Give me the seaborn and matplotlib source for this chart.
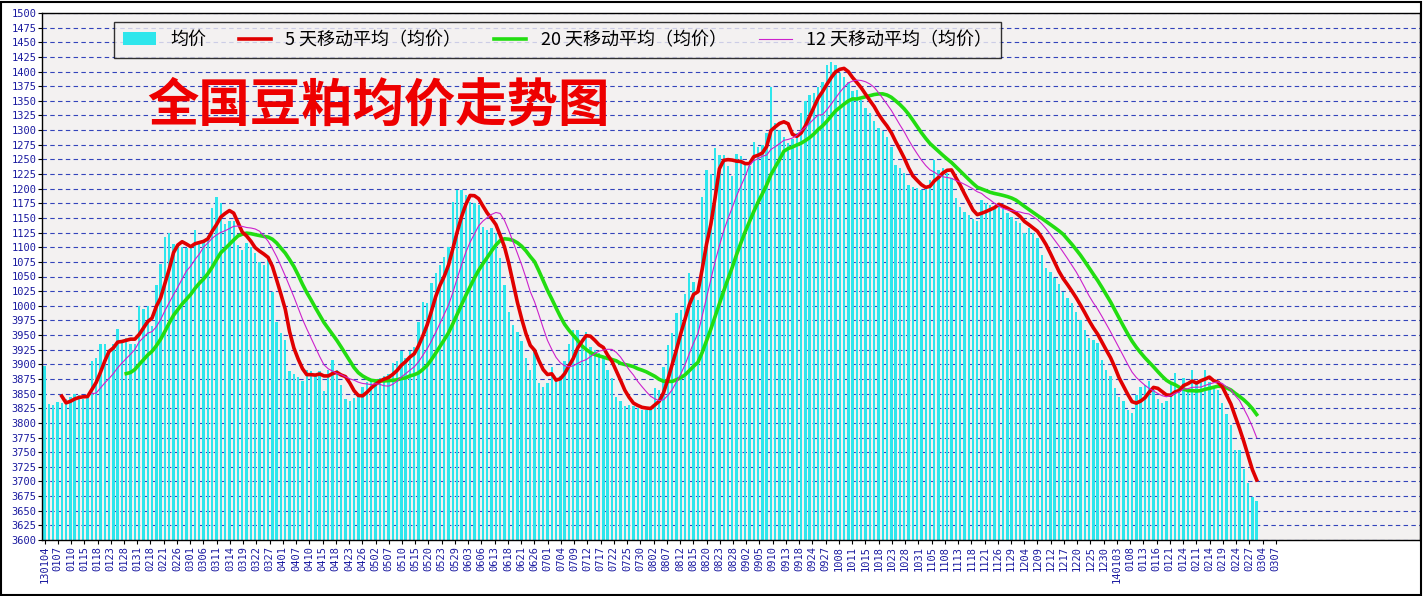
import numpy as np
import pandas as pd
import matplotlib
matplotlib.use("Agg")
import matplotlib.pyplot as plt
import seaborn as sns

seg1 = [3897,3832,3830,3835,3834,3840,3845,3850,3848,3840,3842,3905,3910,3935,3935,3925,3935,3960,3940,3945,3935,3935,4000,3995,4000,3965,4035,4072,4118,4124,4105,4100,4100,4098,4102,4130,4110,4110,4120,4167,4186,4175,4140,4145,4145,4104,4095,4107,4100,4090,4075,4070]
seg2 = [4078,4024,3973,3953,3942,3888,3884,3878,3871,3891,3888,3880,3888,3854,3891,3908,3891,3865,3840,3837,3842,3850,3862,3870,3875,3872,3877,3880,3883,3902,3905,3922,3911,3922,3930,3973,4007,4004,4039,4056,4070,4084,4101,4178,4198,4198,4190,4178,4176,4172,4135,4130]
seg3 = [4132,4124,4081,4036,3990,3967,3956,3939,3910,3890,3925,3868,3862,3868,3896,3871,3880,3905,3935,3959,3959,3936,3956,3930,3925,3920,3913,3891,3877,3845,3838,3828,3830,3828,3825,3822,3822,3826,3859,3856,3895,3933,3953,3987,3993,4020,4056,4041,4010,4186,4232,4225]
seg4 = [4269,4258,4258,4238,4221,4260,4255,4240,4238,4280,4272,4275,4295,4374,4312,4301,4289,4278,4284,4295,4329,4349,4360,4363,4374,4383,4411,4417,4411,4397,4391,4383,4366,4369,4352,4337,4329,4315,4304,4298,4289,4272,4240,4235,4226,4206,4203,4201,4198,4203,4215,4249,4232,4235]
seg5 = [4226,4218,4184,4169,4161,4155,4149,4144,4181,4175,4172,4166,4172,4166,4158,4152,4144,4141,4124,4132,4124,4115,4087,4064,4058,4047,4038,4024,4013,4004,3990,3976,3959,3945,3942,3936,3908,3891,3880,3860,3845,3837,3822,3817,3848,3862,3865,3871,3857,3840,3834,3837,3868]
seg6 = [3885,3853,3876,3853,3890,3868,3873,3890,3870,3859,3856,3834,3816,3796,3754,3754,3722,3697,3674,3666]
prices = seg1 + seg2 + seg3 + seg4 + seg5 + seg6

date_labels = ["130104","0107","0110","0115","0118","0123","0128","0131","0218","0221","0226","0301","0306","0311","0314","0319","0322","0327","0401","0407","0410","0415","0418","0423","0426","0502","0507","0510","0515","0520","0523","0529","0603","0606","0613","0618","0621","0626","0701","0704","0709","0712","0717","0722","0725","0730","0802","0807","0812","0815","0820","0823","0828","0902","0905","0910","0913","0918","0924","0927","1008","1011","1015","1018","1023","1028","1031","1105","1108","1113","1118","1121","1126","1129","1204","1209","1212","1217","1220","1225","1230","140103","0108","0113","0116","0121","0124","0211","0214","0219","0224","0227","0304","0307"]
y_ticks = list(range(3600, 4501, 25))
y_tick_labels = [str(v - 3000) if v >= 4000 else str(v) for v in y_ticks]

df = pd.DataFrame({"idx": np.arange(len(prices)), "price": prices})
df["ma5"] = df["price"].rolling(5).mean()
df["ma20"] = df["price"].rolling(20).mean()
df["ma12"] = df["price"].rolling(12).mean()

plt.rcParams["font.family"] = ["Noto Sans CJK SC", "DejaVu Sans"]
fig = plt.figure(figsize=(14.24, 5.96), dpi=100, facecolor="white")
ax = fig.add_axes([42/1424, 56/596, 1378/1424, 527/596])
ax.set_facecolor("#f3f1f1")

sns.barplot(data=df, x="idx", y="price", native_scale=True, color="#2ee6ec",
            width=0.55, saturation=1, ax=ax, label="均价", zorder=2)
sns.lineplot(data=df, x="idx", y="ma5", color="#e00000", lw=2.6, ax=ax, label="5 天移动平均（均价）", zorder=4)
sns.lineplot(data=df, x="idx", y="ma20", color="#22dd11", lw=2.6, ax=ax, label="20 天移动平均（均价）", zorder=3)
sns.lineplot(data=df, x="idx", y="ma12", color="#cc22cc", lw=0.8, ax=ax, label="12 天移动平均（均价）", zorder=5)

ax.set_ylim(3600, 4500)
ax.set_xlim(-0.6, 320)
ax.set_yticks(y_ticks)
ax.set_yticklabels(y_tick_labels, color="#1a1aa0", fontsize=7.5, family="DejaVu Sans Mono")
ax.set_xticks(np.arange(len(date_labels)) * 3.08)
ax.set_xticklabels(date_labels, rotation=90, color="#1a1aa0", fontsize=7.5, family="DejaVu Sans Mono")
ax.tick_params(axis="both", length=3, pad=1)
ax.yaxis.grid(True, color="#3344bb", ls=(0, (4, 3)), lw=0.8)
ax.set_axisbelow(True)
ax.set_xlabel("")
ax.set_ylabel("")
for s in ax.spines.values():
    s.set_color("black")
    s.set_linewidth(1)

h, l = ax.get_legend_handles_labels()
order = [l.index("均价")] + [i for i in range(len(l)) if l[i] != "均价"]
leg = ax.legend([h[i] for i in order], [l[i] for i in order], loc="upper left",
                bbox_to_anchor=(63/1378, 1.0), ncol=4, frameon=True,
                fontsize=13, handlelength=1.8, columnspacing=1.8, borderpad=0.5,
                fancybox=False, edgecolor="black")
leg.get_frame().set_facecolor("#f3f1f1")
leg.get_frame().set_linewidth(1)

ax.text(105/1378, 0.825, "全国豆粕均价走势图", transform=ax.transAxes, color="#ee0000",
        fontsize=37, fontweight="bold", va="center", ha="left")

fig.patches.append(plt.Rectangle((0.001, 0.002), 0.997, 0.995, transform=fig.transFigure,
                                 fill=False, edgecolor="black", lw=1.5))
fig.savefig("out.png", dpi=100)
